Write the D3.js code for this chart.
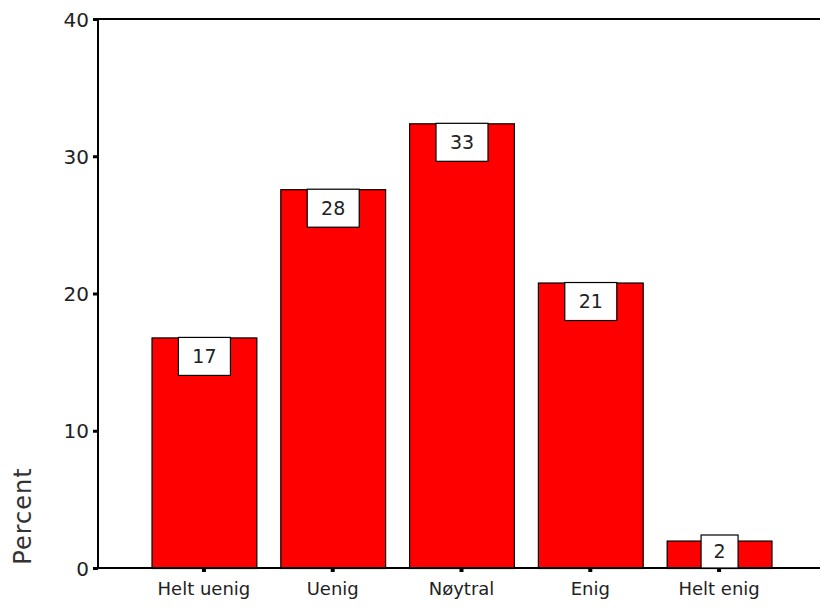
<!DOCTYPE html>
<html><head><meta charset="utf-8">
<script src="https://cdn.jsdelivr.net/npm/d3@7"></script>
<style>body{margin:0;background:#fff;} svg{display:block;}</style>
</head><body>
<svg id="c" width="820" height="609"></svg>
<script>
const categories = ["Helt uenig", "Uenig", "Nøytral", "Enig", "Helt enig"];
const values = [16.8, 27.6, 32.4, 20.8, 2.0];
const labels = ["17", "28", "33", "21", "2"];
const yTicks = [0, 10, 20, 30, 40];

const svg = d3.select("#c");
const font = "'DejaVu Sans', Verdana, sans-serif";
const x0 = 98, yBase = 568, yTop = 19;

const x = d3.scaleBand().domain(categories).range([100, 823]).paddingInner(0.186).paddingOuter(0.4);
const y = d3.scaleLinear().domain([0, 40]).range([yBase, yTop]);

// bars
svg.selectAll("rect.bar").data(values).join("rect")
  .attr("class", "bar")
  .attr("x", (d, i) => x(categories[i]) + 0.5)
  .attr("y", d => y(d) + 0.5)
  .attr("width", x.bandwidth())
  .attr("height", d => yBase - y(d))
  .attr("fill", "#ff0000").attr("stroke", "#000").attr("stroke-width", 1.2);

// top frame line
svg.append("line").attr("x1", x0).attr("x2", 820).attr("y1", yTop).attr("y2", yTop)
  .attr("stroke", "#000").attr("stroke-width", 2);

// y axis
const yAxis = d3.axisLeft(y).tickValues(yTicks).tickSize(5).tickPadding(4);
const gy = svg.append("g").attr("transform", `translate(${x0},0)`).call(yAxis);
gy.select(".domain").attr("stroke-width", 2).attr("d", `M0,${yTop}V${yBase}`);
gy.selectAll(".tick line").attr("stroke-width", 3);
gy.selectAll(".tick text").attr("font-family", font).attr("font-size", 20).attr("fill", "#222").attr("dy", "0.35em");

// x axis
const xAxis = d3.axisBottom(x).tickSize(4).tickPadding(10);
const gx = svg.append("g").attr("transform", `translate(0,${yBase})`).call(xAxis);
gx.select(".domain").attr("stroke-width", 2).attr("d", `M${x0},0H820`);
gx.selectAll(".tick line").attr("stroke-width", 4);
gx.selectAll(".tick text").attr("font-family", font).attr("font-size", 18).attr("fill", "#222");

// value label boxes
const boxH = 38;
const lg = svg.selectAll("g.lbl").data(values).join("g").attr("class", "lbl");
lg.each(function(d, i) {
  const g = d3.select(this);
  const cx = x(categories[i]) + x.bandwidth() / 2 + 0.5;
  const w = labels[i].length > 1 ? 52 : 37;
  let top = y(d);
  let h = boxH;
  if (top + h > yBase) { h = 33; top = Math.min(top, yBase - h); }
  g.append("rect").attr("x", cx - w / 2).attr("y", top).attr("width", w).attr("height", h)
    .attr("fill", "#fff").attr("stroke", "#000").attr("stroke-width", 1.2);
  g.append("text").attr("x", cx).attr("y", top + h / 2).attr("dy", "0.36em")
    .attr("text-anchor", "middle").attr("font-family", font).attr("font-size", 19).attr("fill", "#222")
    .text(labels[i]);
});

// y axis title
svg.append("text").attr("transform", "translate(31,516) rotate(-90)")
  .attr("text-anchor", "middle").attr("font-family", font).attr("font-size", 24).attr("fill", "#333")
  .attr("letter-spacing", "1px")
  .text("Percent");
</script>
</body></html>
